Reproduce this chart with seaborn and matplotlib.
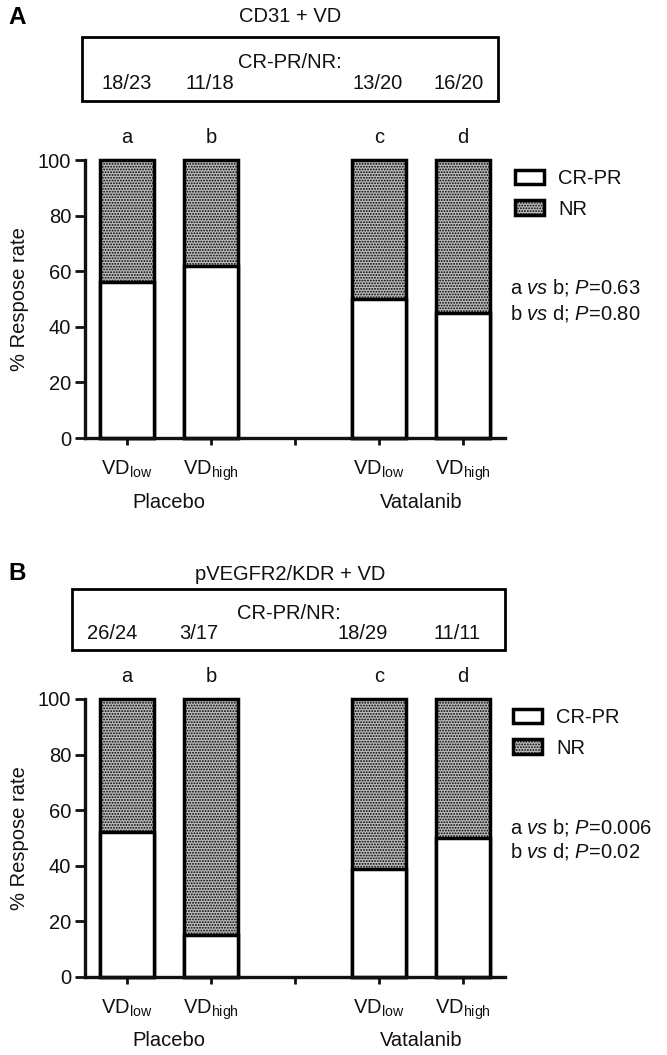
import pandas as pd
import seaborn as sns
import matplotlib.pyplot as plt
from matplotlib.patches import Rectangle
from matplotlib.transforms import blended_transform_factory

# x axis slots, the 'gap' slot is left empty between the two arms
slots = ['P-low', 'P-high', 'gap', 'V-low', 'V-high']
bar_slots = ['P-low', 'P-high', 'V-low', 'V-high']
bar_letters = ['a', 'b', 'c', 'd']
tick_labels = [r'VD$_{\mathregular{low}}$', r'VD$_{\mathregular{high}}$', '',
               r'VD$_{\mathregular{low}}$', r'VD$_{\mathregular{high}}$']
arms = ['Placebo', 'Vatalanib']

# panel A: CD31 + VD
cd31_crpr = [56, 62, 50, 45]
cd31_counts = ['18/23', '11/18', '13/20', '16/20']
cd31_pvals = ['0.63', '0.80']

# panel B: pVEGFR2/KDR + VD
kdr_crpr = [52, 15, 39, 50]
kdr_counts = ['26/24', '3/17', '18/29', '11/11']
kdr_pvals = ['0.006', '0.02']

W, H = 667, 1055
FS = 14.5

sns.set_style('ticks')
plt.rcParams['font.family'] = ['Liberation Sans', 'DejaVu Sans']
plt.rcParams['mathtext.fontset'] = 'custom'
plt.rcParams['mathtext.rm'] = 'Liberation Sans'
plt.rcParams['mathtext.it'] = 'Liberation Sans:italic'
plt.rcParams['hatch.linewidth'] = 0.9
plt.rcParams['text.color'] = '#111111'
plt.rcParams['axes.labelcolor'] = '#111111'
plt.rcParams['xtick.color'] = '#111111'
plt.rcParams['ytick.color'] = '#111111'
plt.rcParams['axes.edgecolor'] = '#111111'

fig = plt.figure(figsize=(W / 100, H / 100), dpi=100)


def fx(px):
    return px / W


def fy(py):
    return 1 - py / H


def draw_panel(top, letter, title, crpr, counts, pvals, count_shift, box, title_y, legend_x):
    # top = pixel row of the 100 % line, axis spans 278 px
    ax = fig.add_axes([fx(85), fy(top + 278), fx(505) - fx(85), 278 / H])
    df = pd.DataFrame({'slot': bar_slots, 'crpr': crpr})
    df['total'] = 100

    sns.barplot(data=df, x='slot', y='total', order=slots, color='#bcbcbc', saturation=1,
                width=0.65, edgecolor='black', linewidth=2.5, hatch='......',
                errorbar=None, label='NR', ax=ax)
    sns.barplot(data=df, x='slot', y='crpr', order=slots, color='white', saturation=1,
                width=0.65, edgecolor='black', linewidth=2.5,
                errorbar=None, label='CR-PR', ax=ax)
    for p in ax.patches:
        p.set_clip_on(False)

    ax.set_xlim(-0.5, 4.5)
    ax.set_ylim(0, 100)
    ax.set_yticks(range(0, 101, 20))
    ax.set_xticks(range(5))
    ax.set_xticklabels(tick_labels, fontsize=FS)
    ax.tick_params(axis='y', labelsize=FS, length=7, width=2, pad=3)
    ax.tick_params(axis='x', length=5, width=2, pad=10)
    ax.set_xlabel('')
    ax.set_ylabel('% Respose rate', fontsize=FS, labelpad=6)
    sns.despine(ax=ax)
    for s in ['left', 'bottom']:
        ax.spines[s].set_linewidth(2.4)

    pos = [slots.index(s) for s in bar_slots]
    tr = blended_transform_factory(ax.transData, fig.transFigure)

    # letters above bars
    for i, t in zip(pos, bar_letters):
        ax.text(i, 108, t, ha='center', va='center', fontsize=FS, clip_on=False)

    # arm labels under the tick labels
    for k, arm in enumerate(arms):
        ax.text((pos[2 * k] + pos[2 * k + 1]) / 2, fy(top + 278 + 64), arm,
                transform=tr, ha='center', va='center', fontsize=FS)

    # counts box
    x0, y0, x1, y1 = box
    fig.patches.append(Rectangle((fx(x0), fy(y1)), fx(x1) - fx(x0), fy(y0) - fy(y1),
                                 transform=fig.transFigure, fill=False,
                                 edgecolor='black', linewidth=2))
    fig.text(fx((x0 + x1) / 2), fy(y0 + 0.40 * (y1 - y0)), 'CR-PR/NR:',
             ha='center', va='center', fontsize=FS)
    for i, c, d in zip(pos, counts, count_shift):
        ax.text(i + d, fy(y0 + 0.73 * (y1 - y0)), c, transform=tr,
                ha='center', va='center', fontsize=FS)

    fig.text(fx(290), fy(title_y), title, ha='center', va='center', fontsize=FS)
    fig.text(fx(8), fy(title_y), letter, ha='left', va='center', fontsize=FS + 3,
             fontweight='bold', color='black')

    # legend, CR-PR first
    h, l = ax.get_legend_handles_labels()
    ax.legend(h[::-1], l[::-1], loc='center left', frameon=False, fontsize=FS,
              bbox_to_anchor=(fx(legend_x), fy(top + 34)), bbox_transform=fig.transFigure,
              borderpad=0, borderaxespad=0, handlelength=1.45, handleheight=0.7,
              handletextpad=0.7, labelspacing=0.55)

    fig.text(fx(510), fy(top + 128), r'a $\mathit{vs}$ b; $\mathit{P}$=' + pvals[0],
             ha='left', va='center', fontsize=FS)
    fig.text(fx(510), fy(top + 153), r'b $\mathit{vs}$ d; $\mathit{P}$=' + pvals[1],
             ha='left', va='center', fontsize=FS)
    return ax


draw_panel(160, 'A', 'CD31 + VD', cd31_crpr, cd31_counts, cd31_pvals,
           [0, -0.01, -0.02, -0.05], (82, 37, 498, 101), 17, 515)
draw_panel(699, 'B', 'pVEGFR2/KDR + VD', kdr_crpr, kdr_counts, kdr_pvals,
           [-0.18, -0.14, -0.19, -0.07], (72, 589, 505, 650), 574, 513)

fig.savefig('out.png', dpi=100)
